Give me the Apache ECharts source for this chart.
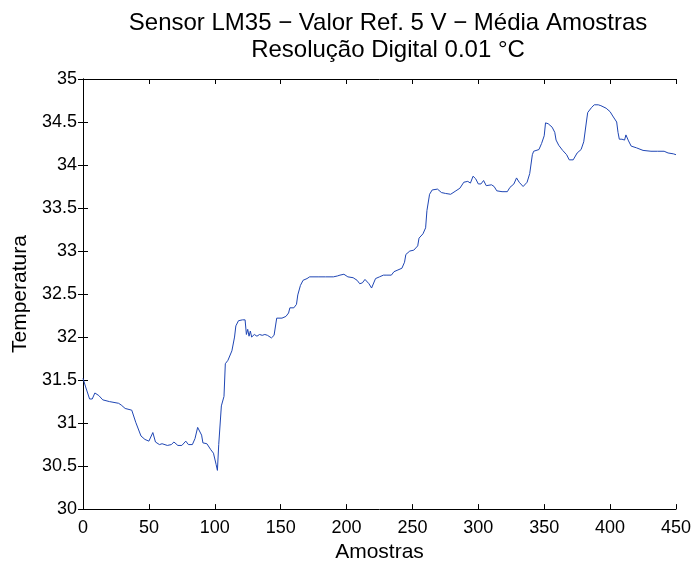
<!DOCTYPE html>
<html>
<head>
<meta charset="utf-8">
<script src="https://cdn.jsdelivr.net/npm/echarts@6/dist/echarts.min.js"></script>
<style>html,body{margin:0;padding:0;background:#fff}#c{width:694px;height:568px}</style>
</head>
<body>
<div id="c"></div>
<script>
const titleLines = ["Sensor LM35 \u2212 Valor Ref. 5 V \u2212 Média Amostras", "Resolução Digital 0.01 °C"];
const xName = "Amostras";
const yName = "Temperatura";
const samples = [0,2,3,5,7,9,12,15,20,27,29,32,37,40,41,44,47,50,53,55,58,60,64,67,69,72,75,78,80,83,85,87,90,91,94,97,99,101,102,103,105,107,108,110,113,115,116,118,121,123,124,125,126,127,128,130,132,134,136,138,140,143,145,147,151,154,156,157,160,162,163,165,167,170,172,179,184,190,193,195,198,201,205,208,210,212,214,217,219,222,225,228,230,234,236,239,242,244,245,248,251,254,255,258,260,261,263,265,269,272,275,279,283,286,289,292,294,296,298,300,302,304,306,307,310,312,314,318,322,324,327,329,331,334,337,339,341,342,346,348,350,351,353,356,358,359,361,364,367,369,372,375,378,380,382,383,386,388,391,393,397,400,402,405,406,407,409,411,412,414,416,420,425,431,436,441,444,448,450];
const temps = [31.52,31.42,31.40,31.28,31.28,31.35,31.32,31.27,31.25,31.23,31.21,31.17,31.15,31.01,30.99,30.85,30.81,30.79,30.89,30.78,30.75,30.76,30.74,30.75,30.78,30.74,30.74,30.79,30.75,30.75,30.82,30.95,30.86,30.77,30.76,30.69,30.65,30.52,30.45,30.75,31.20,31.31,31.69,31.73,31.84,32.00,32.13,32.19,32.20,32.20,32.03,32.09,32.01,32.07,32.00,32.03,32.01,32.03,32.02,32.03,32.02,31.99,32.02,32.22,32.22,32.24,32.28,32.34,32.34,32.38,32.49,32.60,32.66,32.68,32.70,32.70,32.70,32.70,32.71,32.72,32.73,32.70,32.69,32.66,32.62,32.63,32.67,32.62,32.57,32.68,32.70,32.72,32.72,32.72,32.76,32.78,32.80,32.87,32.96,33.00,33.01,33.06,33.15,33.20,33.27,33.47,33.66,33.71,33.72,33.68,33.67,33.66,33.70,33.73,33.80,33.81,33.79,33.87,33.84,33.78,33.78,33.82,33.76,33.74,33.77,33.75,33.70,33.69,33.69,33.74,33.78,33.85,33.80,33.75,33.80,33.90,34.12,34.16,34.18,34.25,34.34,34.49,34.48,34.44,34.38,34.29,34.23,34.17,34.12,34.06,34.06,34.14,34.18,34.27,34.50,34.61,34.67,34.70,34.70,34.69,34.66,34.62,34.57,34.50,34.38,34.30,34.30,34.29,34.35,34.28,34.22,34.20,34.17,34.16,34.16,34.16,34.14,34.13,34.12];
const xTicks = [0,50,100,150,200,250,300,350,400,450];
const yTicks = [30,30.5,31,31.5,32,32.5,33,33.5,34,34.5,35];

const chart = echarts.init(document.getElementById('c'), null, {renderer:'canvas'});
const font = 'Liberation Sans, Arial, Helvetica, sans-serif';
const axisLine = {show:true, lineStyle:{color:'#000', width:1}};
const tick = {show:true, inside:true, length:5, lineStyle:{color:'#000', width:1}};
chart.setOption({
  animation:false,
  backgroundColor:'#fff',
  title:{
    text: titleLines.join('\n'),
    left: 383, top: 5, textAlign:'center',
    textStyle:{fontFamily:font, fontSize:24, fontWeight:'normal', color:'#000', lineHeight:27}
  },
  grid:{left:83, right:14, top:79, bottom:49, containLabel:false},
  xAxis:[{
    type:'value', min:0, max:450, interval:50,
    name:xName, nameLocation:'middle', nameGap:30,
    nameTextStyle:{fontFamily:font, fontSize:21, color:'#000'},
    axisLine:axisLine, axisTick:tick, splitLine:{show:false},
    axisLabel:{fontFamily:font, fontSize:18, color:'#000', margin:10,
      formatter:v=>xTicks.includes(v)?String(v):''}
  },{
    type:'value', min:0, max:450, interval:50, position:'top',
    axisLine:axisLine, axisTick:tick, splitLine:{show:false}, axisLabel:{show:false}
  }],
  yAxis:[{
    type:'value', min:30, max:35, interval:0.5,
    name:yName, nameLocation:'middle', nameGap:52,
    nameTextStyle:{fontFamily:font, fontSize:21, color:'#000'},
    axisLine:axisLine, axisTick:tick, splitLine:{show:false},
    axisLabel:{fontFamily:font, fontSize:18, color:'#000', margin:6,
      formatter:v=>{const t=yTicks.find(a=>Math.abs(a-v)<1e-6);return t===undefined?'':String(t);}}
  },{
    type:'value', min:30, max:35, interval:0.5, position:'right',
    axisLine:axisLine, axisTick:tick, splitLine:{show:false}, axisLabel:{show:false}
  }],
  series:[{
    type:'line', xAxisIndex:0, yAxisIndex:0,
    data: samples.map((s,i)=>[s,temps[i]]),
    showSymbol:false, symbol:'none', smooth:false,
    lineStyle:{color:'#1f46b4', width:1},
    itemStyle:{color:'#1f46b4'}
  }]
});
</script>
</body>
</html>
